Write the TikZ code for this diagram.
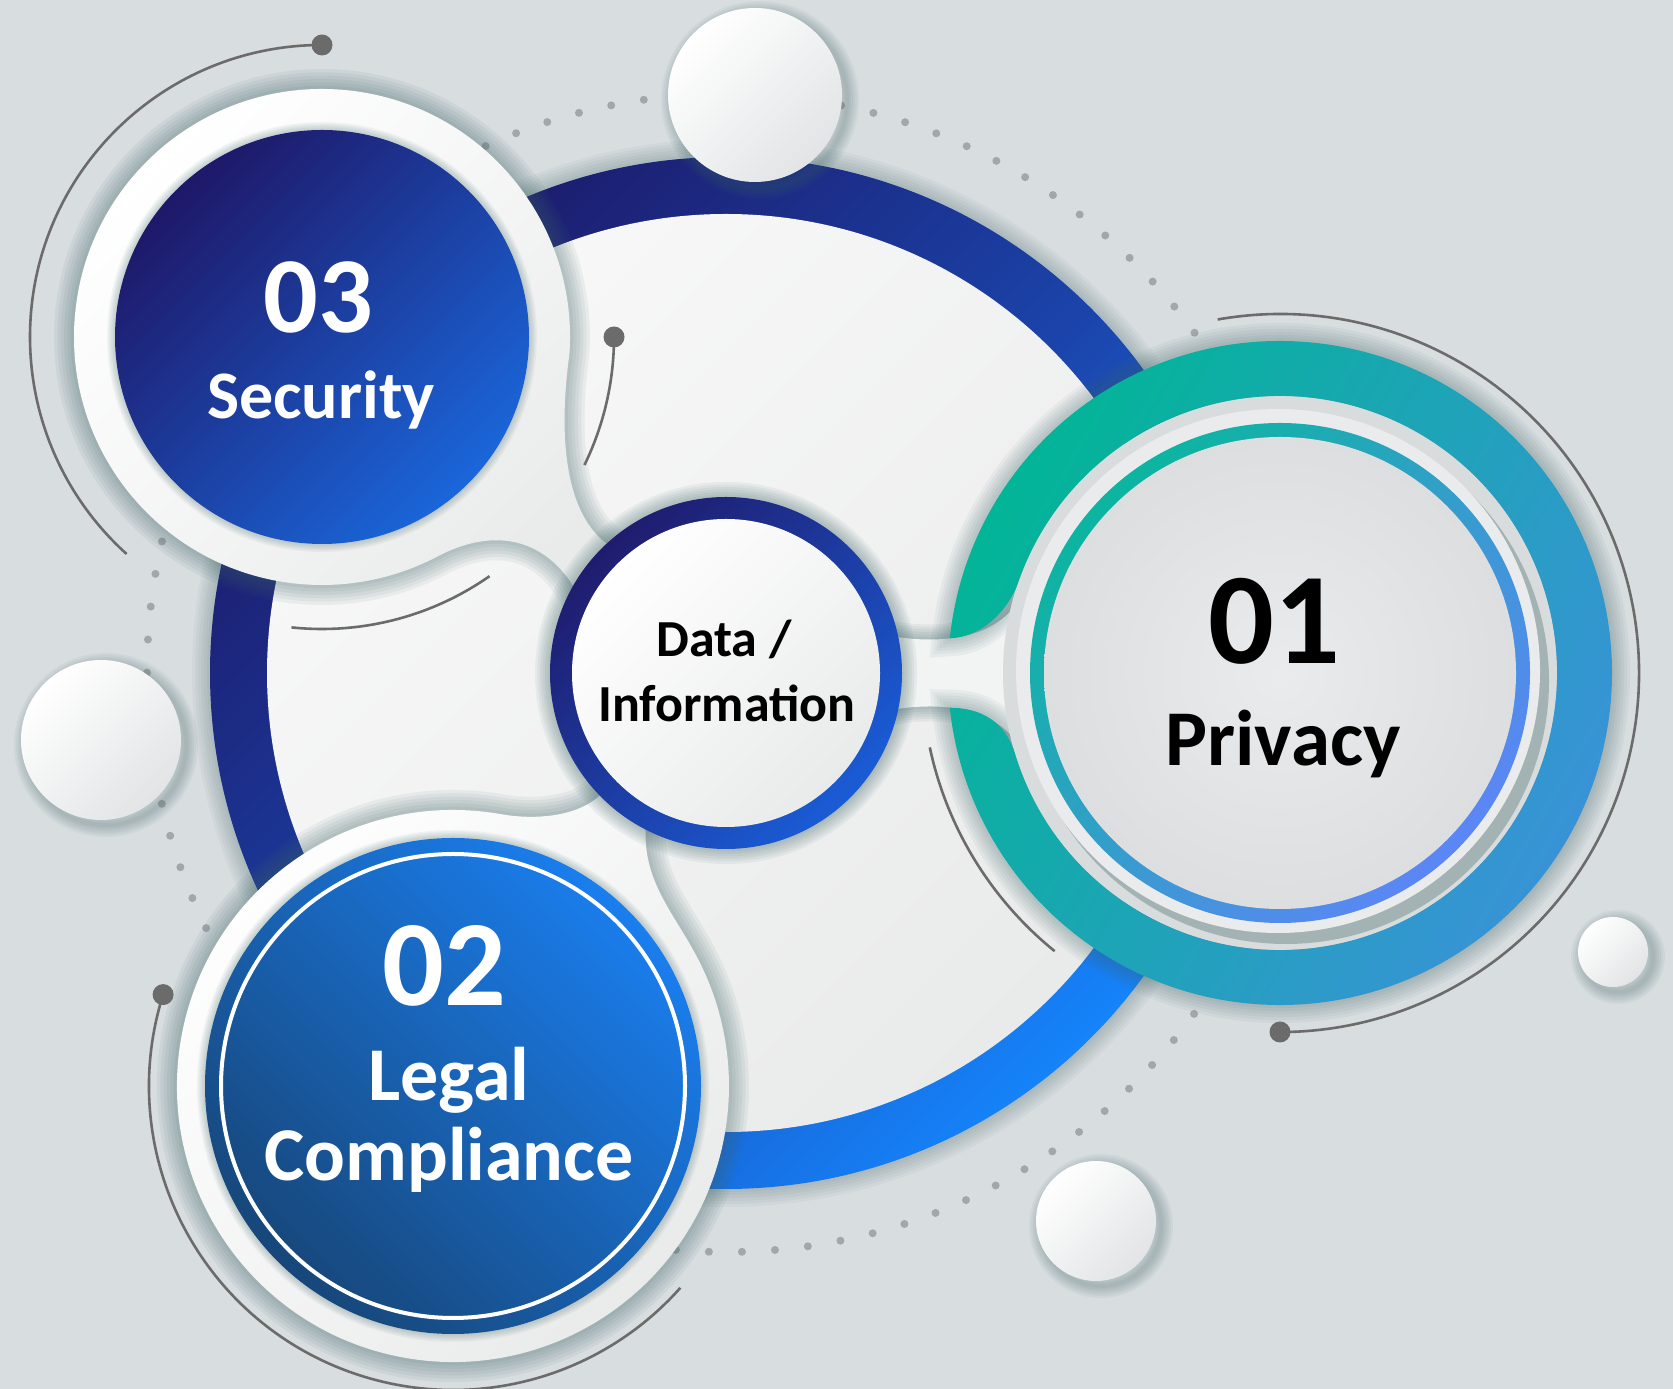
\documentclass[tikz,border=0pt]{standalone}
\usepackage{fontspec}
\setmainfont{Carlito}
\definecolor{bg}{HTML}{D8DDE0}
\definecolor{dotc}{HTML}{A3A7AA}
\definecolor{arcc}{HTML}{6B6B6B}
\definecolor{shadowc}{HTML}{3F6668}
\definecolor{ringA}{HTML}{1C1B6B}
\definecolor{ringM}{HTML}{1B44AB}
\definecolor{ringB}{HTML}{1583FA}
\definecolor{secA}{HTML}{1E1868}
\definecolor{secB}{HTML}{1A66DA}
\definecolor{legA}{HTML}{1A7EEE}
\definecolor{legB}{HTML}{17477A}
\definecolor{tealA}{HTML}{02B597}
\definecolor{tealB}{HTML}{3A92D8}
\definecolor{thinA}{HTML}{0CB5A0}
\definecolor{thinB}{HTML}{5C86F6}
\definecolor{dataA}{HTML}{1F1C6E}
\definecolor{dataB}{HTML}{1A5CD6}
\definecolor{whiteA}{HTML}{F8F8F8}
\definecolor{whiteB}{HTML}{E9EAEA}
\definecolor{innerA}{HTML}{EAEBEC}
\definecolor{innerB}{HTML}{DCDEDF}
\definecolor{bevel}{HTML}{D9DCDD}
\definecolor{bevsh}{HTML}{A3B3B4}
\definecolor{sphB}{HTML}{E2E4E5}
\newcommand\halo[3]{\foreach \hw in {1,...,6}{\draw[shadowc, draw opacity=#2, line width={#3*\hw/6}] #1;}}
\tikzset{
  graycurve/.style={arcc, line width=2.6},
  ballend/.style={fill=arcc},
  numtext/.style={anchor=base, font=\bfseries\fontsize{#1}{#1}\selectfont},
}
\begin{document}
\begin{tikzpicture}[x=1pt,y=1pt]
\useasboundingbox (0,0) rectangle (1673,1389);
\fill[bg] (0,0) rectangle (1673,1389);

% dotted orbit
\draw[dotc, line width=8, line cap=round, dash pattern=on 0pt off 33.07pt] (726,716) circle[radius=579];

% main ring
\halo{(726,716) circle[radius=516]}{0.05}{36}
\shade[top color=ringA, bottom color=ringB, middle color=ringM, shading angle=45] (726,716) circle[radius=516];
\shade[top color=whiteA, bottom color=whiteB, shading angle=45] (726,716) circle[radius=459];

% Security blob
\def\secblob{(569.4,1034.7) arc[start angle=-4, end angle=298, radius=248] .. controls (490,860) and (555,860) .. (590,770) -- (650,830) .. controls (570,835) and (555,930) .. (569.4,1034.7) -- cycle}
\halo{\secblob}{0.07}{40}
\shade[top color=white, bottom color=whiteB, shading angle=45] \secblob;
\halo{(322,1052) circle[radius=207]}{0.05}{16}
\shade[top color=secA, bottom color=secB, shading angle=45] (322,1052) circle[radius=207];

% Legal blob
\def\legblob{(500.9,574.8) arc[start angle=80, end angle=386.7, radius=276] .. controls (672,482) and (632,515) .. (650,590) -- (615,620) .. controls (605,575) and (545,567) .. (500.9,574.8) -- cycle}
\halo{\legblob}{0.07}{40}
\shade[top color=white, bottom color=whiteB, shading angle=45] \legblob;
\halo{(453,303) circle[radius=248]}{0.05}{16}
\shade[top color=legA, bottom color=legB, shading angle=-45] (453,303) circle[radius=248];
\draw[white, line width=4] (453,303) circle[radius=232];

% Privacy neck
\def\privneck{(870,757) .. controls (925,744) and (1000,742) .. (1025,800) -- (1025,632) .. controls (1000,690) and (925,688) .. (870,675) -- cycle}
\halo{\privneck}{0.07}{30}
\fill[whiteA!60!whiteB] \privneck;

% Privacy disc
\def\tealband{(949.8,750.7) arc[start angle=174, end angle=-174, radius=332] .. controls (990,681) and (1008,659) .. (1015.1,635) arc[start angle=-163, end angle=161, radius=277] .. controls (1010,782.6) and (985,752) .. (949.8,750.7) -- cycle}
\halo{\tealband}{0.06}{36}
\fill[bevel] (1280,716) circle[radius=277];
\shade[top color=tealA, bottom color=tealB, shading angle=60] \tealband;
\fill[bevsh] (1286,708) circle[radius=263];
\fill[innerA] (1278,718) circle[radius=262];
\shade[top color=thinA, bottom color=thinB, shading angle=45] (1280,716) circle[radius=250];
\shade[inner color=innerA, outer color=innerB] (1280,716) circle[radius=236];

% Data circle
\halo{(726,716) circle[radius=176]}{0.07}{30}
\shade[top color=dataA, bottom color=dataB, shading angle=45] (726,716) circle[radius=176];
\shade[top color=white, bottom color=whiteB, shading angle=45] (726,716) circle[radius=154];

% gray arcs with ball ends
\coordinate (b3) at (322,1344);
\coordinate (b3i) at (614,1052);
\coordinate (a3l) at (291.5,761.6);
\coordinate (a1o) at (1217.7,1069.5);
\coordinate (b1) at (1280,357);
\coordinate (a1i) at (929.8,641.6);
\coordinate (b2) at (163.1,394.4);
\draw[graycurve] (b3) arc[start angle=90, end angle=228, radius=292];
\draw[graycurve] (b3i) arc[start angle=0, end angle=-26, radius=292];
\draw[graycurve] (a3l) arc[start angle=264, end angle=305, radius=292];
\draw[graycurve] (a1o) arc[start angle=100, end angle=-90, radius=359];
\draw[graycurve] (a1i) arc[start angle=192, end angle=231, radius=358];
\draw[graycurve] (b2) arc[start angle=162.5, end angle=318.4, radius=304];
\foreach \b in {b3,b3i,b1,b2} \fill[ballend] (\b) circle[radius=10.5];

% spheres
\foreach \x/\y/\r in {755/1294/87, 101/649/80, 1613/437/35, 1096/168/60}{
  \halo{(\x+5,\y-5) circle[radius=\r]}{0.06}{24}
  \shade[top color=white, bottom color=sphB, shading angle=45] (\x,\y) circle[radius=\r];
}

% texts
\node[numtext=108, text=white] (n03) at (318,1056) {03};
\node[numtext=68, text=white] (sec) at (321,970) {Security};
\node[numtext=122, text=white] (n02) at (444,383) {02};
\node[numtext=76, text=white] (leg) at (449,288) {Legal};
\node[numtext=76, text=white] (comp) at (449,208) {Compliance};
\node[numtext=130, text=black] (n01) at (1274,725) {01};
\node[numtext=79, text=black] (priv) at (1283,623) {Privacy};
\node[numtext=52, text=black] (data) at (724,732) {Data /};
\node[numtext=52, text=black] (info) at (727,667) {Information};
\end{tikzpicture}
\end{document}
